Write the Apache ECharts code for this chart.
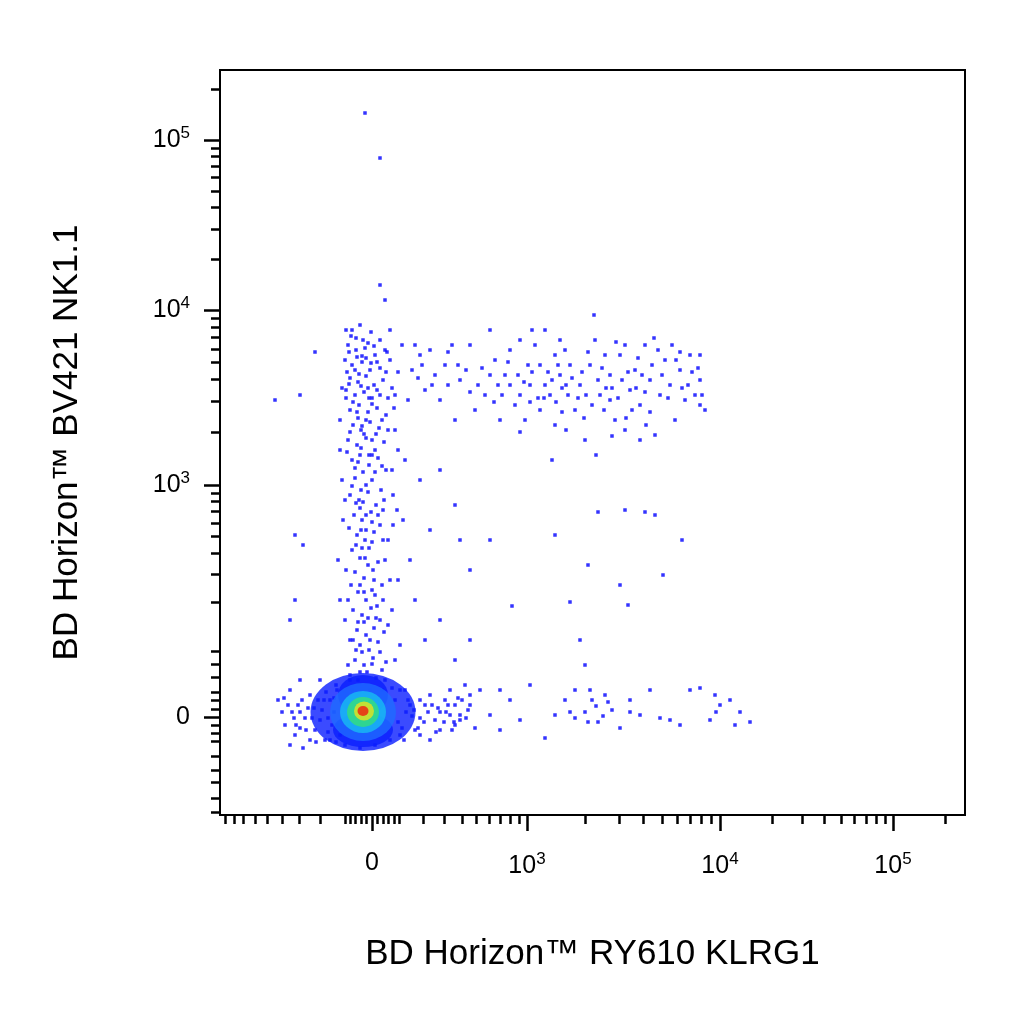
<!DOCTYPE html>
<html>
<head>
<meta charset="utf-8">
<script src="https://cdn.jsdelivr.net/npm/echarts@6/dist/echarts.min.js"></script>
<style>html,body{margin:0;padding:0;background:#fff}#c{width:1024px;height:1024px}</style>
</head>
<body>
<div id="c"></div>
<script>
// display coordinates (channel scale)
var xMajorPos = [372, 527, 720, 893];
var xMajorText = ['0', '10{s|3}', '10{s|4}', '10{s|5}'];
var yMajorPos = [717, 485, 310, 140];
var yMajorText = ['0', '10{s|3}', '10{s|4}', '10{s|5}'];

var columnPts = [[352,330],[360,325],[371,332],[380,340],[348,345],[356,350],[365,348],[375,355],[385,350],[345,360],[352,365],[362,362],[370,370],[380,368],[390,360],[350,378],[358,382],[366,376],[374,385],[383,380],[346,390],[355,395],[364,392],[372,398],[380,395],[392,388],[350,410],[359,405],[368,412],[377,408],[386,415],[353,425],[361,430],[370,422],[379,428],[348,440],[357,445],[366,438],[375,450],[384,442],[352,460],[360,455],[369,465],[378,458],[355,478],[363,472],[372,480],[381,490],[350,495],[359,500],[368,492],[376,505],[354,515],[362,520],[371,512],[380,525],[357,535],[365,540],[374,532],[352,550],[360,558],[369,548],[378,562],[355,572],[364,578],[373,570],[382,585],[358,592],[366,600],[375,595],[353,610],[362,615],[371,608],[380,620],[357,630],[366,635],[374,628],[360,645],[369,650],[378,642],[355,660],[364,665],[373,658],[382,670],[350,675],[395,660],[400,645],[392,610],[398,580],[403,520],[405,460],[408,400],[412,370],[420,355],[395,430],[340,420],[342,480],[338,560],[345,620],[400,690],[348,600],[388,540],[392,470],[397,510],[343,520],[386,470],
[356,338],[368,343],[349,352],[362,356],[377,362],[355,370],[368,388],[353,402],[366,420],[358,418],[372,440],[361,448],[355,468],[366,485],[360,508],[372,522],[362,548],[368,565],[360,585],[372,590],[364,622],[370,640],[362,652],[367,672],[358,680],[376,678],[386,662],[350,640],[383,600],[385,560],[383,510],[388,430],[398,372],[402,345],[346,330],[390,330],
[351,336],[363,340],[374,346],[347,372],[359,374],[371,363],[386,372],[349,384],[361,386],[377,390],[388,398],[346,398],[357,412],[372,404],[382,420],[350,432],[364,434],[376,434],[347,452],[358,462],[372,455],[382,466],[352,486],[361,490],[375,472],[384,500],[356,503],[366,515],[378,515],[349,528],[361,530],[372,542],[383,540],[356,545],[365,558],[374,580],[351,585],[364,592],[377,606],[358,622],[368,618],[356,650],[372,664],[380,652],[360,672],[348,665],[388,625],[390,580],[393,495],[398,450],[394,408],[345,500],[340,600],[353,640],[376,618],[366,530],[363,502],[369,455],[362,426],[369,398],[366,358],[357,357],[342,388],[340,450],[387,352],[395,395],[393,525],[346,570],[384,632],[370,690],[352,690],[382,690]];

var clusterPts = [[430,350],[445,365],[460,380],[470,345],[485,395],[495,360],[505,375],[515,405],[520,340],[530,385],[540,365],[545,330],[550,395],[560,375],[565,350],[575,410],[580,385],[590,365],[595,340],[600,395],[610,375],[615,420],[620,355],[630,390],[635,370],[640,405],[645,345],[650,380],[660,395],[665,360],[670,385],[680,370],[690,355],[700,380],[705,410],[700,355],[695,395],[685,400],[675,420],[655,435],[625,430],[585,440],[555,425],[525,420],[500,420],[475,410],[455,420],[440,400],[425,390],[435,375],[490,330],[510,350],[535,345],[555,355],[570,365],[605,355],[625,345],[658,350],[672,345],[688,385],[520,395],[545,385],[568,395],[592,405],[610,400],[632,410],[650,412],[540,410],[510,385],[490,375],[466,370],[452,345],[594,315],[552,460],[596,455],
[528,365],[548,372],[562,388],[578,398],[598,380],[612,388],[628,372],[645,392],[662,375],[682,388],[698,368],[538,398],[518,375],[502,395],[478,385],[588,352],[638,358],[618,398],[572,378],[556,402],
[415,345],[422,365],[432,385],[448,352],[458,365],[482,368],[498,385],[508,362],[524,382],[532,372],[544,398],[552,380],[558,365],[566,385],[582,372],[586,395],[602,368],[606,388],[622,380],[636,388],[642,375],[652,365],[668,398],[676,360],[692,372],[702,395],[584,418],[604,410],[626,418],[646,425],[562,412],[530,402],[494,402],[470,392],[448,385],[418,378],[532,330],[560,340],[616,342],[654,338],[680,352],[520,432],[566,430],[612,436],[640,440],[700,405]];

var sparsePts = [[295,535],[303,545],[295,600],[290,620],[275,400],[300,395],[460,540],[490,540],[555,535],[598,512],[625,510],[645,512],[655,515],[682,540],[588,565],[620,585],[628,605],[663,575],[570,602],[512,606],[470,570],[580,640],[585,665],[380,285],[385,300],[380,158],[365,113],[315,352],[455,505],[440,470],[420,480],[430,530],[415,600],[425,640],[410,560],[440,620],[455,660],[470,640]];

var tailPts = [[420,700],[440,712],[455,725],[470,705],[480,690],[490,715],[500,730],[510,700],[520,720],[530,685],[545,738],[555,715],[565,700],[575,690],[585,712],[592,700],[598,722],[605,695],[612,710],[620,728],[630,700],[640,715],[650,690],[660,718],[670,720],[680,725],[690,690],[700,688],[710,720],[720,705],[730,700],[740,712],[750,722],[715,695],[590,690],[603,716],[575,718],[465,685],[430,695],[450,690],[460,715],[475,728],[596,706],[588,722],[608,702],[570,712],[630,712],[716,712],[735,725],[500,690]];

var spreadPts = [[278,700],[282,712],[285,725],[290,690],[295,735],[298,705],[303,748],[305,718],[310,695],[315,730],[320,680],[322,710],[325,740],[330,700],[332,725],[337,690],[405,690],[410,705],[415,730],[420,718],[425,705],[430,740],[435,720],[440,730],[445,700],[450,715],[455,705],[460,720],[468,710],[470,695],[345,745],[360,748],[375,745],[390,740],[400,735],[350,680],[385,680],[395,700],[340,735],[290,745],[300,680],[320,720],
[288,705],[294,718],[300,728],[308,708],[312,718],[318,700],[326,692],[328,732],[334,712],[412,716],[418,728],[428,712],[438,708],[444,722],[452,730],[462,700],[398,722],[404,740],[336,742],[316,742],
[284,698],[292,712],[302,700],[306,730],[314,708],[324,700],[328,718],[334,698],[338,725],[408,700],[414,710],[424,722],[432,705],[436,732],[446,712],[454,722],[458,698],[402,728],[406,712],[392,688],[336,685],[330,740],[310,740],[296,725],[300,712],[420,735],[448,705],[466,718]];

// density core, outermost first: [x, y, width, height]
var coreBlue = [[363,712,105,78],[363,695,50,40],[363,730,60,34]];
var coreLight = [[363,712,66,58]];
var coreCyan = [[363,712,46,42]];
var coreGreen = [[363,712,32,30]];
var coreYellow = [[364,711,20,19]];
var coreRed = [[363,711,11,10]];

// minor tick positions from the biexponential-like display transform
function fx(v) {
    if (v <= 1000) return 372 + 78.2 * Math.asinh(v / 282);
    var d = Math.floor(Math.log10(v)), a = {3:527,4:720,5:893}[d], b = {3:720,4:893,5:1066}[d];
    return a + (b - a) * (Math.log10(v) - d);
}
function fy(v) {
    if (v <= 1000) return 717 - 75 * Math.asinh(v / 91);
    var d = Math.floor(Math.log10(v)), a = {3:485,4:310,5:140}[d], b = {3:310,4:140,5:-30}[d];
    return a + (b - a) * (Math.log10(v) - d);
}
var xMinor = [], yMinor = [], k;
[-900,-800,-700,-600,-500,-400,-300,-200,-100,-80,-60,-40,-20,20,40,60,80,100,200,300,400,500,600,700,800,900].forEach(function (v) { xMinor.push(fx(v)); });
for (k = 2; k <= 9; k++) { xMinor.push(fx(k * 1000)); xMinor.push(fx(k * 10000)); if (fx(k * 100000) < 965) xMinor.push(fx(k * 100000)); }
[-150,-120,-90,-70,-50,-30,-20,-10,10,20,30,50,70,90,200,300,400,500,600,700,800,900].forEach(function (v) { yMinor.push(fy(v)); });
for (k = 2; k <= 9; k++) { yMinor.push(fy(k * 1000)); yMinor.push(fy(k * 10000)); if (fy(k * 100000) > 70) yMinor.push(fy(k * 100000)); }
xMinor = xMinor.filter(function (p) { return p > 222 && p < 963; });
yMinor = yMinor.filter(function (p) { return p > 72 && p < 813; });

var lblStyle = { color: '#000', fontSize: 25, fontFamily: 'Liberation Sans', rich: { s: { fontSize: 17, verticalAlign: 'top', padding: [0, 0, 14, 0], color: '#000', fontFamily: 'Liberation Sans' } } };
function fmt(pos, txt) { return function (val) { var i = pos.indexOf(Math.round(val)); return i < 0 ? '' : txt[i]; }; }

function axisX(major) {
    return {
        type: 'value', min: 220, max: 965, position: 'bottom',
        axisLine: { show: major, lineStyle: { color: '#000', width: 2 } },
        splitLine: { show: false },
        axisTick: { show: true, length: major ? 16 : 9, lineStyle: { color: '#000', width: 2.5 }, customValues: major ? xMajorPos : xMinor },
        axisLabel: { show: major, margin: 36, customValues: xMajorPos, formatter: fmt(xMajorPos, xMajorText), textStyle: lblStyle },
        name: major ? 'BD Horizon™ RY610 KLRG1' : '', nameLocation: 'middle', nameGap: 122,
        nameTextStyle: { fontSize: 35, color: '#000', fontFamily: 'Liberation Sans' }
    };
}
function axisY(major) {
    return {
        type: 'value', min: 70, max: 815, inverse: true, position: 'left',
        axisLine: { show: major, lineStyle: { color: '#000', width: 2 } },
        splitLine: { show: false },
        axisTick: { show: true, length: major ? 16 : 9, lineStyle: { color: '#000', width: 2.5 }, customValues: major ? yMajorPos : yMinor },
        axisLabel: { show: major, margin: 30, customValues: yMajorPos, formatter: fmt(yMajorPos, yMajorText), textStyle: lblStyle },
        name: major ? 'BD Horizon™ BV421 NK1.1' : '', nameLocation: 'middle', nameGap: 135,
        nameTextStyle: { fontSize: 35, color: '#000', fontFamily: 'Liberation Sans' }
    };
}

function dots(data) {
    return { type: 'scatter', data: data, symbol: 'rect', symbolSize: 3.5, itemStyle: { color: '#0000ff' }, silent: true, z: 2 };
}
function blob(data, color, z) {
    return { type: 'scatter', data: data, symbolSize: function (d) { return [d[2], d[3]]; }, itemStyle: { color: color }, silent: true, z: z };
}

var chart = echarts.init(document.getElementById('c'));
chart.setOption({
    animation: false,
    backgroundColor: '#fff',
    grid: { left: 220, right: 59, top: 70, bottom: 209, show: true, borderColor: '#000', borderWidth: 2 },
    xAxis: [axisX(true), axisX(false)],
    yAxis: [axisY(true), axisY(false)],
    series: [
        dots(columnPts),
        dots(clusterPts),
        dots(sparsePts),
        dots(tailPts),
        dots(spreadPts),
        blob(coreBlue, '#0a1eff', 3),
        blob(coreLight, '#1f6cff', 4),
        blob(coreCyan, '#18bdf2', 5),
        blob(coreGreen, '#35e07a', 6),
        blob(coreYellow, '#e6e21e', 7),
        blob(coreRed, '#ee1c10', 8)
    ]
});
</script>
</body>
</html>
